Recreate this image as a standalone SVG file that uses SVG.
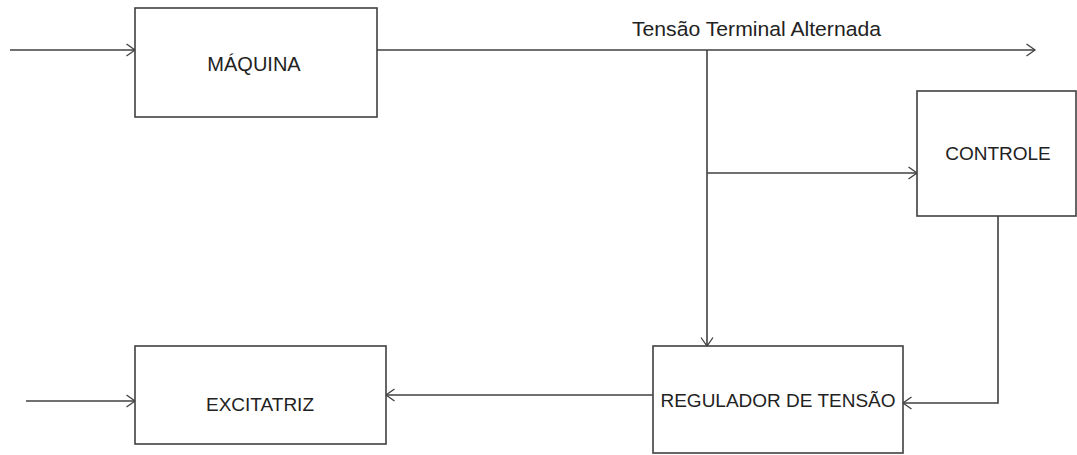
<svg xmlns="http://www.w3.org/2000/svg" width="1077" height="455" viewBox="0 0 1077 455">
<style>
.box{fill:#fff;stroke:#404040;stroke-width:1.6}
.ln{fill:none;stroke:#404040;stroke-width:1.6}
.t{font-family:"Liberation Sans",Arial,sans-serif;font-size:19px;fill:#222}
</style>
<defs>
<marker id="ah" markerUnits="userSpaceOnUse" markerWidth="10" markerHeight="14" refX="8.5" refY="6" orient="auto" overflow="visible">
<path d="M0,0 L8.5,6 L0,12" fill="none" stroke="#404040" stroke-width="1.3"/>
</marker>
</defs>
<rect width="1077" height="455" fill="#fff"/>
<g id="connectors">
<line class="ln" x1="10" y1="50" x2="135" y2="50" marker-end="url(#ah)"/>
<line class="ln" x1="377" y1="50" x2="1035" y2="50" marker-end="url(#ah)"/>
<line class="ln" x1="707" y1="50" x2="707" y2="346" marker-end="url(#ah)"/>
<line class="ln" x1="707" y1="173" x2="917" y2="173" marker-end="url(#ah)"/>
<polyline class="ln" points="998,216 998,403 903,403" marker-end="url(#ah)"/>
<line class="ln" x1="653" y1="395" x2="386" y2="395" marker-end="url(#ah)"/>
<line class="ln" x1="26" y1="401" x2="135" y2="401" marker-end="url(#ah)"/>
<text class="t" x="632" y="36" style="font-size:20.5px" textLength="249" lengthAdjust="spacingAndGlyphs">Tensão Terminal Alternada</text>
</g>
<g id="maquina">
<rect class="box" x="135" y="8" width="242" height="109"/>
<text class="t" x="254" y="71" text-anchor="middle" style="font-size:20px">MÁQUINA</text>
</g>
<g id="controle">
<rect class="box" x="917" y="91" width="159" height="125"/>
<text class="t" x="998" y="160" text-anchor="middle">CONTROLE</text>
</g>
<g id="regulador">
<rect class="box" x="653" y="346" width="250" height="107"/>
<text class="t" x="778" y="407" text-anchor="middle">REGULADOR DE TENSÃO</text>
</g>
<g id="excitatriz">
<rect class="box" x="135" y="346" width="251" height="98"/>
<text class="t" x="260" y="411" text-anchor="middle">EXCITATRIZ</text>
</g>
</svg>
